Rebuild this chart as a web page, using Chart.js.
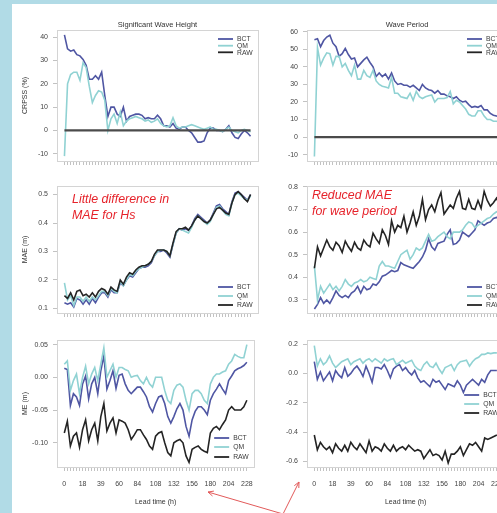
<!DOCTYPE html>
<html>
<head>
<meta charset="utf-8">
<script src="https://cdn.jsdelivr.net/npm/chart.js@4.4.1/dist/chart.umd.min.js"></script>
<style>
  html, body { margin:0; padding:0; width:497px; height:513px; overflow:hidden; background:#b1dbe6; }
  #sheet { position:absolute; left:12px; top:4px; right:0; bottom:0; background:#ffffff; }
  canvas.panel { position:absolute; }
  .note { position:absolute; margin:0; color:#e6232b; font-family:"Liberation Sans", Arial, sans-serif;
          font-style:italic; font-size:12.4px; line-height:16px; white-space:nowrap; }
  #arrows { position:absolute; left:0; top:0; }
</style>
</head>
<body>
<div id="sheet"></div>
<script>
// Forecast lead times (h); every sixth one is labelled on the bottom axes.
const leadTimes = [0,3,6,9,12,15,18,21,25,28,32,35,39,42,46,49,53,56,
  60,64,68,72,76,80,84,88,92,96,100,104,108,112,116,120,124,128,132,136,140,144,148,152,156,
  160,164,168,172,176,180,184,188,192,196,200,204,208,212,216,220,224,228];

const seriesNames = ['BCT', 'QM', 'RAW'];
const columnTitles = ['Significant Wave Height', 'Wave Period'];
const rowAxisTitles = ['CRPSS (%)', 'MAE (m)', 'ME (m)'];

// CRPSS (%) relative to the raw forecast
const crpssHsBCT = [41,35,34,34.5,32.5,32,30.5,28,22,22,23.5,22,25,15,6,10,10,7,6,10,4,6,6.5,7,7,6.5,5,5.5,5,5,
  6.5,5,2,2,1.5,3,1,0.5,1.5,1.5,0,-1,-3,-5,-5,-4.5,-1,1,1,0,0,-0.5,0.5,2,-1,-3,-3.5,-1.5,0,-1,-2.5];
const crpssHsQM = [-11,20,24,25,25,21.5,29,27,19,12,15,17,16.5,13,0,5,7,3,8,2,4,5,5.5,6,5.5,5,4,4.5,3.5,4,
  5,3,2,1.5,2,5.5,2,1,1.5,1.5,2,2.5,2,1.5,1,0.5,1,1.5,0.5,0.5,0,-0.5,0.5,1.5,0,-0.5,-1,0,0.5,0,-0.5];
const crpssHsRAW = [0,0,0,0,0,0,0,0,0,0,0,0,0,0,0,0,0,0,0,0,0,0,0,0,0,0,0,0,0,0,
  0,0,0,0,0,0,0,0,0,0,0,0,0,0,0,0,0,0,0,0,0,0,0,0,0,0,0,0,0,0,0];
const crpssTpBCT = [55.5,56,51.5,55,57,58,53.5,51.5,46,47.5,50.5,47,44.5,45,40,42,44,45.5,42.5,40,
  34.5,36.5,34.5,36,33,36.5,32,30,30.5,29.5,29.5,28.5,29.5,28,26.5,30,28,27,26.5,25,
  26.5,24.5,24.5,23.5,23,22,23,21,20,20.5,18.5,17,17.5,17,18,15.5,15.5,13.5,12.5,12,11.5];
const crpssTpQM = [-11,51,41,45,48,47.5,41,46,46,40,42,38,35,41,33,33,38,35,34,38,
  32,30,29,28.5,28,34,25,25,23,22.5,22,25,21,26,23,22,23,23.5,24,20,
  22,22,22,22.5,26,19,21,20,18,16,13,12,12,15,15,12,10,10,9,9,8.5];
const crpssTpRAW = [0,0,0,0,0,0,0,0,0,0,0,0,0,0,0,0,0,0,0,0,0,0,0,0,0,0,0,0,0,0,
  0,0,0,0,0,0,0,0,0,0,0,0,0,0,0,0,0,0,0,0,0,0,0,0,0,0,0,0,0,0,0];

// Mean absolute error
const maeHsBCT = [0.12,0.115,0.12,0.105,0.135,0.13,0.115,0.13,0.115,0.135, 0.12,0.14,0.155,0.155,0.14,0.165,0.155,0.155,0.19,0.18,
  0.2,0.215,0.21,0.225,0.24,0.245,0.245,0.25,0.26,0.285, 0.3,0.3,0.305,0.295,0.28,0.325,0.365,0.38,0.375,0.38,
  0.375,0.39,0.415,0.43,0.42,0.41,0.4,0.41,0.435,0.46, 0.465,0.45,0.44,0.43,0.475,0.505,0.51,0.5,0.49,0.48, 0.5];
const maeHsQM = [0.19,0.13,0.145,0.11,0.14,0.14,0.125,0.14,0.125,0.14, 0.13,0.145,0.16,0.16,0.145,0.17,0.16,0.155,0.195,0.18,
  0.2,0.22,0.215,0.23,0.24,0.245,0.25,0.255,0.265,0.285, 0.3,0.305,0.305,0.3,0.285,0.325,0.365,0.38,0.375,0.37,
  0.365,0.385,0.41,0.425,0.415,0.405,0.395,0.405,0.43,0.455, 0.46,0.445,0.43,0.425,0.47,0.5,0.505,0.495,0.485,0.48, 0.495];
const maeHsRAW = [0.145,0.135,0.155,0.13,0.16,0.165,0.145,0.15,0.14,0.155, 0.14,0.16,0.17,0.165,0.15,0.175,0.165,0.16,0.2,0.185,
  0.21,0.225,0.22,0.235,0.245,0.25,0.25,0.255,0.265,0.29, 0.305,0.305,0.305,0.3,0.285,0.33,0.37,0.38,0.38,0.385,
  0.375,0.39,0.41,0.425,0.415,0.405,0.4,0.41,0.43,0.45, 0.455,0.445,0.435,0.43,0.47,0.5,0.51,0.5,0.485,0.475, 0.5];
const maeTpBCT = [0.26,0.28,0.31,0.285,0.3,0.285,0.31,0.34,0.32,0.31, 0.32,0.31,0.33,0.34,0.36,0.33,0.36,0.345,0.35,0.37,
  0.365,0.38,0.405,0.41,0.42,0.43,0.425,0.43,0.465,0.455, 0.45,0.445,0.44,0.455,0.47,0.49,0.52,0.57,0.535,0.52,
  0.55,0.555,0.56,0.59,0.61,0.545,0.55,0.565,0.6,0.59, 0.58,0.595,0.61,0.65,0.64,0.63,0.64,0.645,0.66,0.665, 0.66];
const maeTpQM = [0.45,0.3,0.36,0.33,0.35,0.37,0.345,0.36,0.34,0.36, 0.39,0.37,0.36,0.375,0.38,0.39,0.38,0.385,0.4,0.395,
  0.39,0.45,0.47,0.45,0.45,0.445,0.44,0.47,0.5,0.51, 0.52,0.48,0.5,0.53,0.52,0.53,0.56,0.59,0.56,0.565,
  0.58,0.59,0.6,0.58,0.57,0.6,0.6,0.6,0.61,0.63, 0.645,0.64,0.62,0.63,0.64,0.65,0.66,0.665,0.68,0.69, 0.685];
const maeTpRAW = [0.44,0.535,0.495,0.53,0.565,0.535,0.52,0.555,0.54,0.51, 0.56,0.535,0.515,0.555,0.53,0.52,0.565,0.545,0.535,0.595,
  0.57,0.55,0.61,0.585,0.545,0.65,0.6,0.63,0.62,0.67, 0.6,0.64,0.69,0.63,0.67,0.745,0.655,0.7,0.72,0.69,
  0.74,0.775,0.68,0.7,0.72,0.705,0.75,0.78,0.705,0.7, 0.745,0.705,0.7,0.74,0.705,0.78,0.74,0.715,0.73,0.75, 0.72];

// Mean error (bias)
const meHsBCT = [0.014,0.012,-0.043,-0.025,-0.03,-0.043,-0.01,0.002,-0.033,-0.01, 0,-0.025,0.01,0.033,-0.018,-0.005,0.01,-0.017,0.003,0.005,
  -0.01,-0.02,-0.025,-0.02,-0.015,-0.015,-0.022,-0.03,-0.045,-0.053, -0.04,-0.03,-0.028,-0.04,-0.06,-0.07,-0.06,-0.048,-0.04,-0.05,
  -0.075,-0.09,-0.065,-0.052,-0.045,-0.045,-0.05,-0.057,-0.035,-0.025, -0.018,-0.01,-0.018,-0.025,-0.005,0.002,0.01,0.013,0.015,0.018, 0.023];
const meHsQM = [0.02,0.025,-0.02,-0.005,0.005,-0.025,0,0.017,-0.01,0.005, 0.015,-0.005,0.02,0.045,0,0.01,0.02,0,0.015,0.015,
  0.012,0.01,0,0.002,0.003,-0.005,-0.01,0,-0.01,-0.015, 0,0,0,-0.02,-0.035,-0.04,-0.02,-0.012,-0.01,-0.015,
  -0.035,-0.05,-0.025,-0.02,-0.02,-0.025,-0.035,-0.04,-0.01,0, 0.005,0.005,0.008,0.01,0.02,0.025,0.035,0.032,0.03,0.03, 0.05];
const meHsRAW = [-0.085,-0.067,-0.105,-0.09,-0.085,-0.107,-0.08,-0.065,-0.097,-0.08, -0.07,-0.097,-0.06,-0.04,-0.082,-0.07,-0.062,-0.085,-0.065,-0.067,
  -0.07,-0.08,-0.095,-0.088,-0.08,-0.08,-0.088,-0.095,-0.105,-0.11, -0.09,-0.085,-0.083,-0.1,-0.115,-0.12,-0.1,-0.097,-0.095,-0.1,
  -0.12,-0.13,-0.11,-0.107,-0.105,-0.11,-0.113,-0.115,-0.085,-0.078, -0.075,-0.08,-0.072,-0.065,-0.05,-0.045,-0.05,-0.05,-0.05,-0.045, -0.035];
const meTpBCT = [0.08,-0.04,0.01,-0.05,-0.02,0.01,-0.05,0.02,-0.01,-0.03, 0.04,-0.02,0,0.03,0.05,0.02,-0.02,0.05,0,-0.06,
  0.04,0.04,0.03,0.06,0.02,-0.03,0.03,0.05,0.06,0.02, 0.04,0.01,-0.01,0.02,-0.03,-0.06,-0.05,-0.07,-0.09,-0.04,
  -0.06,-0.05,-0.08,-0.11,-0.07,-0.08,-0.09,-0.05,-0.08,-0.13, -0.08,-0.06,-0.04,-0.06,-0.08,-0.04,-0.06,-0.01,0.02,0.02, 0.02];
const meTpQM = [0.19,0.05,0.1,0.06,0.08,0.12,0.07,0.04,0.06,0.08, 0.09,0.1,0.06,0.08,0.09,0.1,0.07,0.09,0.1,0.08,
  0.1,0.085,0.07,0.1,0.085,0.095,0.1,0.06,0.075,0.09, 0.07,0.08,0.09,0.05,0.03,0.02,0.06,0.08,0.05,0.04,
  0.07,0.03,0,0.04,0.05,0.06,0.02,0.06,0.08,0.085, 0.09,0.05,0.08,0.1,0.11,0.13,0.13,0.14,0.135,0.14, 0.14];
const meTpRAW = [-0.42,-0.52,-0.47,-0.5,-0.52,-0.5,-0.54,-0.48,-0.51,-0.53, -0.49,-0.53,-0.47,-0.5,-0.52,-0.48,-0.51,-0.54,-0.46,-0.53,
  -0.5,-0.51,-0.53,-0.48,-0.51,-0.53,-0.49,-0.53,-0.51,-0.5, -0.52,-0.49,-0.51,-0.53,-0.52,-0.53,-0.58,-0.55,-0.52,-0.56,
  -0.55,-0.56,-0.59,-0.53,-0.61,-0.55,-0.55,-0.53,-0.5,-0.56, -0.52,-0.48,-0.49,-0.47,-0.5,-0.53,-0.44,-0.45,-0.44,-0.43, -0.42];

// Y tick values per panel
const crpssHsTicks = [-10, 0, 10, 20, 30, 40];
const crpssTpTicks = [-10, 0, 10, 20, 30, 40, 50, 60];
const maeHsTicks = [0.1, 0.2, 0.3, 0.4, 0.5];
const maeTpTicks = [0.3, 0.4, 0.5, 0.6, 0.7, 0.8];
const meHsTicks = [-0.10, -0.05, 0.00, 0.05];
const meTpTicks = [-0.6, -0.4, -0.2, 0.0, 0.2];

// ---------------------------------------------------------------------------
const FONT = '"Liberation Sans", Arial, Helvetica, sans-serif';
Chart.defaults.font.family = FONT;

const lineStyle = {
  BCT: { color: '#4f56a3', width: 1.6, order: 2 },
  QM:  { color: '#90d2d3', width: 1.6, order: 1 },
  RAW: { color: '#242424', width: 1.6, order: 0 }
};

// page geometry of the two columns and three rows
const columns = [
  { left: 12, width: 250, axisWidth: 45, padRight: 4 },
  { left: 262, width: 250, axisWidth: 45, padRight: 5 }
];
const rows = [
  { top: 4,   height: 170, padTop: 0,  xAxisHeight: 13 },
  { top: 174, height: 150, padTop: 12, xAxisHeight: 11 },
  { top: 324, height: 189, padTop: 16, xAxisHeight: 46 }
];

const panels = [
  { row: 0, col: 0, series: [crpssHsBCT, crpssHsQM, crpssHsRAW], yMin: -13.1, yMax: 43.1, ticks: crpssHsTicks, digits: 0,
    key: { from: 'top', rows: [9, 15.7, 22.3] }, rawStyle: { color: '#4b4b4b', width: 2.2 } },
  { row: 0, col: 1, series: [crpssTpBCT, crpssTpQM, crpssTpRAW], yMin: -13.6, yMax: 61.0, ticks: crpssTpTicks, digits: 0,
    key: { from: 'top', rows: [9, 15.7, 22.3] }, rawStyle: { color: '#4b4b4b', width: 2.2 } },
  { row: 1, col: 0, series: [maeHsBCT, maeHsQM, maeHsRAW], yMin: 0.084, yMax: 0.53, ticks: maeHsTicks, digits: 1,
    key: { from: 'bottom', rows: [-26, -17, -8] } },
  { row: 1, col: 1, series: [maeTpBCT, maeTpQM, maeTpRAW], yMin: 0.242, yMax: 0.804, ticks: maeTpTicks, digits: 1,
    key: { from: 'bottom', rows: [-26, -17, -8] } },
  { row: 2, col: 0, series: [meHsBCT, meHsQM, meHsRAW], yMin: -0.137, yMax: 0.057, ticks: meHsTicks, digits: 2,
    key: { from: 'bottom', rows: [-29, -20, -10] } },
  { row: 2, col: 1, series: [meTpBCT, meTpQM, meTpRAW], yMin: -0.638, yMax: 0.228, ticks: meTpTicks, digits: 1,
    key: { from: 'top', rows: [55, 64, 73] } }
];

// thin frame round the plotting region plus a small key in one corner
const frameAndKey = {
  id: 'frameAndKey',
  beforeDatasetsDraw(chart) {
    const { ctx, chartArea: a } = chart;
    ctx.save();
    ctx.strokeStyle = '#d4d4d4';
    ctx.lineWidth = 1;
    ctx.strokeRect(Math.round(a.left) + 0.5, Math.round(a.top) + 0.5,
                   Math.round(a.right - a.left), Math.round(a.bottom - a.top));
    ctx.restore();
  },
  afterDatasetsDraw(chart, args, opts) {
    const { ctx, chartArea: a } = chart;
    ctx.save();
    ctx.font = '6.8px ' + FONT;
    ctx.textBaseline = 'middle';
    ctx.textAlign = 'left';
    opts.rows.forEach((dy, k) => {
      const ds = chart.data.datasets[k];
      const y = (opts.from === 'top' ? a.top : a.bottom) + dy;
      ctx.strokeStyle = lineStyle[ds.label].color;
      ctx.lineWidth = 1.8;
      ctx.beginPath();
      ctx.moveTo(a.right - 40, y);
      ctx.lineTo(a.right - 25, y);
      ctx.stroke();
      ctx.fillStyle = '#3a3a3a';
      ctx.fillText(ds.label, a.right - 21, y + 0.5);
    });
    ctx.restore();
  }
};

panels.forEach(p => {
  const col = columns[p.col], row = rows[p.row];
  const canvas = document.createElement('canvas');
  canvas.className = 'panel';
  canvas.width = col.width; canvas.height = row.height;
  canvas.style.left = col.left + 'px'; canvas.style.top = row.top + 'px';
  canvas.style.width = col.width + 'px'; canvas.style.height = row.height + 'px';
  document.body.appendChild(canvas);

  const datasets = seriesNames.map((name, k) => {
    const st = (name === 'RAW' && p.rawStyle) ? p.rawStyle : lineStyle[name];
    return {
      label: name,
      data: p.series[k].map((v, i) => ({ x: i, y: v })),
      borderColor: st.color,
      borderWidth: st.width,
      order: lineStyle[name].order,
      pointRadius: 0,
      tension: 0,
      fill: false
    };
  });

  const bottomRow = p.row === 2;
  new Chart(canvas, {
    type: 'line',
    data: { datasets },
    plugins: [frameAndKey],
    options: {
      responsive: false,
      animation: false,
      devicePixelRatio: 1,
      layout: { padding: { left: 0, right: col.padRight, top: row.padTop, bottom: 0 } },
      plugins: {
        legend: { display: false },
        tooltip: { enabled: false },
        title: {
          display: p.row === 0,
          text: columnTitles[p.col],
          fullSize: false,
          color: '#333333',
          font: { size: 7.5, weight: 'normal' },
          padding: { top: 16.5, bottom: 0.5 }
        },
        frameAndKey: p.key
      },
      scales: {
        x: {
          type: 'linear',
          min: -2.4, max: leadTimes.length - 1 + 2.4,
          afterBuildTicks(axis) { axis.ticks = leadTimes.map((_, i) => ({ value: i })); },
          afterFit(axis) { axis.height = row.xAxisHeight; },
          border: { display: false },
          grid: { drawOnChartArea: false, drawTicks: true, tickLength: 4, color: '#a8a8a8', lineWidth: 0.7 },
          ticks: {
            autoSkip: false, maxRotation: 0, minRotation: 0, padding: 9,
            color: '#444444', font: { size: 7 },
            callback: v => (bottomRow && v % 6 === 0) ? String(leadTimes[v]) : ''
          },
          title: { display: bottomRow, text: 'Lead time (h)', color: '#333333', font: { size: 7 },
                   padding: { top: 0, bottom: 6.5 } }
        },
        y: {
          type: 'linear',
          min: p.yMin, max: p.yMax,
          afterBuildTicks(axis) { axis.ticks = p.ticks.map(v => ({ value: v })); },
          afterFit(axis) { axis.width = col.axisWidth; },
          border: { display: false },
          grid: { drawOnChartArea: false, drawTicks: true, tickLength: 4, color: '#a8a8a8', lineWidth: 0.7 },
          ticks: { padding: 5, color: '#444444', font: { size: 7 }, callback: v => Number(v).toFixed(p.digits) },
          title: { display: p.col === 0, text: rowAxisTitles[p.row], color: '#333333', font: { size: 7 },
                   padding: { top: 9, bottom: 0 } }
        }
      }
    }
  });
});
</script>
<p class="note" style="left:72px; top:191px;">Little difference in<br>MAE for Hs</p>
<p class="note" style="left:312px; top:187px;">Reduced MAE<br>for wave period</p>
<svg id="arrows" width="497" height="513">
  <g stroke="#e25a5a" stroke-width="1" fill="none">
    <line x1="283" y1="514" x2="208" y2="492"/>
    <polyline points="213.9,491.1 208,492 212.5,496"/>
    <line x1="283" y1="514" x2="299" y2="482"/>
    <polyline points="294.3,485.7 299,482 298.8,488"/>
  </g>
</svg>
</body>
</html>
